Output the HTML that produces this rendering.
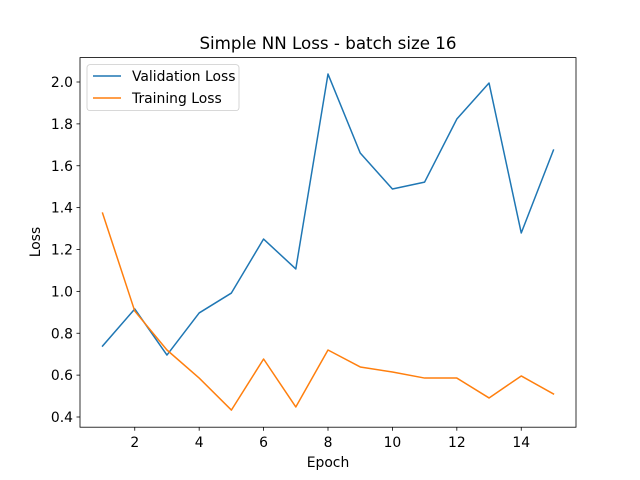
<!DOCTYPE html>
<html><head><meta charset="utf-8"><style>body{margin:0;background:#fff}svg{display:block;font-family:"DejaVu Sans","Liberation Sans",sans-serif}</style></head>
<body>
<svg id="chart" width="640" height="480" viewBox="0 0 640 480">
<rect width="640" height="480" fill="#fff"/>
<text x="328" y="49" font-size="16.7" text-anchor="middle">Simple NN Loss - batch size 16</text>
<g id="ticks"></g>
<g id="lines"></g>
<rect x="80" y="57.6" width="496" height="369.6" fill="none" stroke="#000" stroke-width="0.8"/>
<text x="328" y="467" font-size="13.9" text-anchor="middle">Epoch</text>
<text transform="translate(40,242) rotate(-90)" font-size="13.9" text-anchor="middle">Loss</text>
<g>
<rect x="87" y="64.6" width="152" height="46" rx="3" fill="#fff" fill-opacity="0.8" stroke="#ccc" stroke-width="0.8"/>
<g><line x1="93" y1="76" x2="121" y2="76" stroke="#1f77b4" stroke-width="1.5"/><text x="132" y="81" font-size="13.9">Validation Loss</text></g>
<g><line x1="93" y1="98" x2="121" y2="98" stroke="#ff7f0e" stroke-width="1.5"/><text x="132" y="103" font-size="13.9">Training Loss</text></g>
</g>
</svg>
<script>
const epochs=[1,2,3,4,5,6,7,8,9,10,11,12,13,14,15];
const validationLoss=[0.739,0.916,0.696,0.897,0.992,1.25,1.107,2.038,1.661,1.489,1.522,1.823,1.995,1.279,1.675];
const trainingLoss=[1.374,0.906,0.72,0.586,0.433,0.677,0.448,0.72,0.639,0.615,0.586,0.586,0.491,0.596,0.51];
const xTicks=[2,4,6,8,10,12,14];
const yTicks=[0.4,0.6,0.8,1.0,1.2,1.4,1.6,1.8,2.0];
const NS="http://www.w3.org/2000/svg";
const xs=v=>80+(v-0.3)/15.4*496;
const ys=v=>417-(v-0.4)*209.375;
const tk=document.getElementById('ticks');
function mk(t,a,p){const e=document.createElementNS(NS,t);for(const k in a)e.setAttribute(k,a[k]);p.appendChild(e);return e;}
xTicks.forEach(v=>{const g=mk('g',{},tk);


mk('line',{x1:xs(v),x2:xs(v),y1:427.2,y2:430.7,stroke:'#000','stroke-width':0.8},g);
const t=mk('text',{x:xs(v),y:447,'font-size':13.9,'text-anchor':'middle'},g);t.textContent=v;});
yTicks.forEach(v=>{const g=mk('g',{},tk);


mk('line',{x1:76.5,x2:80,y1:ys(v),y2:ys(v),stroke:'#000','stroke-width':0.8},g);
const t=mk('text',{x:73,y:ys(v)+5,'font-size':13.9,'text-anchor':'end'},g);t.textContent=v.toFixed(1);});
const ln=document.getElementById('lines');
function series(d,c,n){const p=mk('polyline',{points:d.map((v,i)=>xs(epochs[i])+','+ys(v)).join(' '),fill:'none',stroke:c,'stroke-width':1.5,'stroke-linejoin':'round','stroke-linecap':'square'},ln);

}
series(validationLoss,'#1f77b4','validation-loss-line');
series(trainingLoss,'#ff7f0e','training-loss-line');
</script>
</body></html>
